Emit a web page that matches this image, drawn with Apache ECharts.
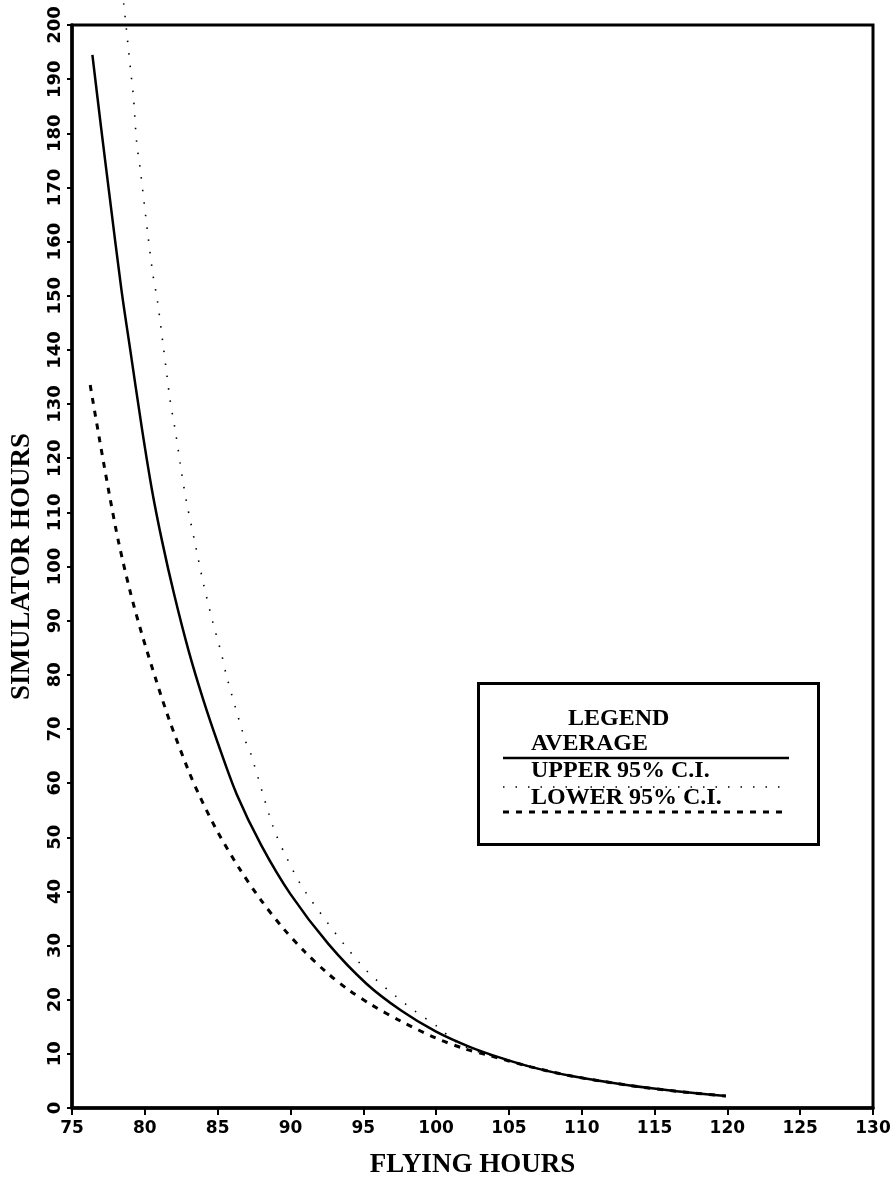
<!DOCTYPE html>
<html>
<head>
<meta charset="utf-8">
<script src="https://cdn.jsdelivr.net/npm/echarts@6/dist/echarts.min.js"></script>
<style>
html,body{margin:0;padding:0;background:#fff;}
#chart{width:896px;height:1184px;}
</style>
</head>
<body>
<div id="chart"></div>
<script>
// ---- data ----
var xTicks = [75, 80, 85, 90, 95, 100, 105, 110, 115, 120, 125, 130];
var yTicks = [0, 10, 20, 30, 40, 50, 60, 70, 80, 90, 100, 110, 120, 130, 140, 150, 160, 170, 180, 190, 200];

var avgX = [76.4, 77.0, 77.6, 78.4, 79.0, 79.8, 80.5, 81.2, 82.0, 83.0, 84.0, 85.0, 86.3, 88.0, 90.0, 92.6, 95.2, 97.6, 100.0, 102.3, 104.5, 106.5, 109.3, 113.2, 116.5, 119.9];
var avgY = [194.5, 181.0, 168.0, 151.0, 140.0, 125.5, 114.0, 104.5, 95.0, 84.5, 75.5, 67.5, 58.0, 48.5, 39.5, 30.3, 23.0, 18.0, 14.1, 11.3, 9.2, 7.6, 5.9, 4.2, 3.1, 2.2];

var upperX = [78.55, 78.76, 79.03, 79.21, 79.44, 79.67, 80.24, 80.58, 80.86, 81.27, 81.5, 81.73, 82.14, 82.53, 82.88, 83.45, 84.02, 84.66, 85.28, 85.62, 86.88, 87.23, 88.8, 89.6, 91.0, 95.0, 98.0, 100.1, 101.5, 103.0, 104.5, 106.5, 109.3, 113.2, 116.5, 119.9];
var upperY = [204.0, 198.6, 191.5, 187.0, 178.3, 173.7, 160.6, 153.5, 149.2, 140.6, 135.7, 130.8, 124.3, 117.2, 111.7, 104.3, 96.9, 89.8, 83.7, 79.7, 68.0, 65.8, 52.0, 47.0, 40.0, 26.0, 19.0, 15.0, 12.0, 10.3, 9.2, 7.6, 5.9, 4.2, 3.1, 2.2];

var lowerX = [76.25, 76.9, 77.6, 78.2, 79.0, 79.8, 80.8, 81.7, 83.0, 83.8, 85.0, 86.5, 88.0, 89.5, 91.0, 92.5, 94.0, 95.6, 97.6, 100.0, 102.0, 103.5, 106.5, 109.3, 113.2, 116.5, 119.9];
var lowerY = [133.5, 123.3, 112.8, 104.5, 95.3, 87.5, 78.8, 71.5, 62.3, 57.4, 51.0, 44.2, 38.3, 33.2, 28.8, 25.0, 21.8, 19.0, 16.0, 12.9, 10.9, 9.8, 7.6, 5.9, 4.2, 3.1, 2.2];

var seriesNames = ['AVERAGE', 'UPPER 95% C.I.', 'LOWER 95% C.I.'];
var xTitle = 'FLYING HOURS';
var yTitle = 'SIMULATOR HOURS';

function pairs(xs, ys) { return xs.map(function (x, i) { return [x, ys[i]]; }); }

var chart = echarts.init(document.getElementById('chart'));
var serif = '"Liberation Serif", "DejaVu Serif", serif';
var tickFont = '"DejaVu Sans", sans-serif';

var option = {
  backgroundColor: '#fff',
  animation: false,
  grid: { left: 72, right: 23, top: 25, bottom: 73, show: true, borderColor: '#000', borderWidth: 3, backgroundColor: 'transparent' },
  xAxis: {
    type: 'value', min: xTicks[0], max: xTicks[xTicks.length - 1], interval: 5,
    name: xTitle, nameLocation: 'middle', nameGap: 44,
    nameTextStyle: { fontFamily: serif, fontWeight: 'bold', fontSize: 27, color: '#000' },
    axisLine: { show: true, lineStyle: { color: '#000', width: 3.5 } },
    axisTick: { show: true, length: 7, lineStyle: { color: '#000', width: 2 } },
    axisLabel: { fontFamily: tickFont, fontWeight: 'bold', fontSize: 17, color: '#000', margin: 12 },
    splitLine: { show: false }
  },
  yAxis: {
    type: 'value', min: yTicks[0], max: yTicks[yTicks.length - 1], interval: 10,
    name: yTitle, nameLocation: 'middle', nameGap: 36, nameRotate: 90,
    nameTextStyle: { fontFamily: serif, fontWeight: 'bold', fontSize: 27, color: '#000' },
    axisLine: { show: true, lineStyle: { color: '#000', width: 3.5 } },
    axisTick: { show: true, length: 5, lineStyle: { color: '#000', width: 2 } },
    axisLabel: { fontFamily: tickFont, fontWeight: 'bold', fontSize: 18, color: '#000', rotate: 90, margin: 8 },
    splitLine: { show: false }
  },
  series: [
    { name: seriesNames[0], type: 'line', data: pairs(avgX, avgY), showSymbol: false, smooth: 0.3,
      lineStyle: { color: '#000', width: 2.5, type: 'solid' }, z: 3 },
    { name: seriesNames[1], type: 'line', data: pairs(upperX, upperY), showSymbol: false, smooth: 0.3, clip: false,
      lineStyle: { color: '#000', width: 1.6, type: [1.5, 11] }, z: 2 },
    { name: seriesNames[2], type: 'line', data: pairs(lowerX, lowerY), showSymbol: false, smooth: 0.3,
      lineStyle: { color: '#000', width: 3, type: [6, 7] }, z: 2 }
  ],
  graphic: [
    { type: 'rect', left: 477, top: 682, shape: { width: 340, height: 161 },
      style: { fill: '#fff', stroke: '#000', lineWidth: 3 }, z: 10 },
    { type: 'text', left: 568, top: 707, z: 11,
      style: { text: 'LEGEND', font: 'bold 24px ' + serif, fill: '#000' } },
    { type: 'text', left: 531, top: 732, z: 11,
      style: { text: seriesNames[0], font: 'bold 24px ' + serif, fill: '#000' } },
    { type: 'line', z: 11, shape: { x1: 503, y1: 758, x2: 789, y2: 758 },
      style: { stroke: '#000', lineWidth: 2.5 } },
    { type: 'text', left: 531, top: 759, z: 11,
      style: { text: seriesNames[1], font: 'bold 24px ' + serif, fill: '#000' } },
    { type: 'line', z: 11, shape: { x1: 503, y1: 787, x2: 789, y2: 787 },
      style: { stroke: '#000', lineWidth: 1.6, lineDash: [1.5, 11] } },
    { type: 'text', left: 531, top: 786, z: 11,
      style: { text: seriesNames[2], font: 'bold 24px ' + serif, fill: '#000' } },
    { type: 'line', z: 11, shape: { x1: 503, y1: 812, x2: 789, y2: 812 },
      style: { stroke: '#000', lineWidth: 3, lineDash: [6, 7] } }
  ]
};
chart.setOption(option);
</script>
</body>
</html>
